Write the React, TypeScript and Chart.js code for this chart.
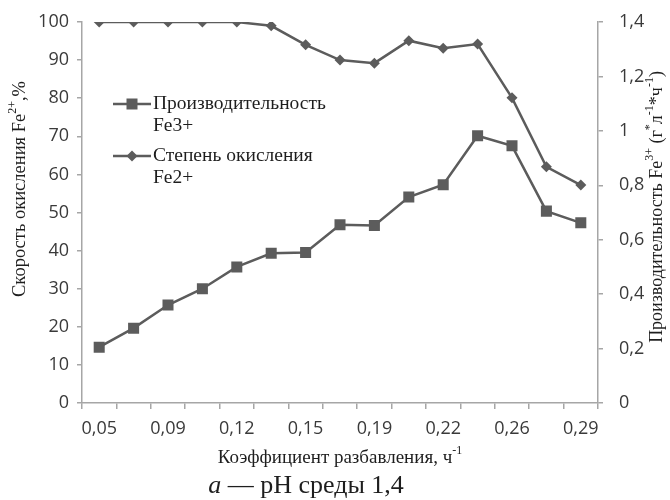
import React, { useEffect, useRef } from 'react';
import { Chart, registerables } from 'chart.js';

Chart.register(...registerables);

// ---- data ----
const categories = ['0,05', '0,07', '0,09', '0,105', '0,12', '0,135', '0,15', '0,17', '0,19', '0,205', '0,22', '0,24', '0,26', '0,275', '0,29'];
const productivity = [0.205, 0.275, 0.36, 0.42, 0.5, 0.55, 0.553, 0.655, 0.652, 0.757, 0.802, 0.982, 0.945, 0.705, 0.662];
const oxidation = [100, 100, 100, 100, 100, 99, 94, 90, 89.2, 95.1, 93.1, 94.2, 80.1, 62, 57.2];
const leftAxis = { min: 0, max: 100, step: 10 };
const rightAxis = { min: 0, max: 1.4, step: 0.2 };
const legendLabels = [
  ['Производительность', 'Fe3+'],
  ['Степень окисления', 'Fe2+'],
];
type Part = { t: string; sup?: boolean };
const leftTitle: Part[] = [{ t: 'Скорость окисления Fe' }, { t: '2+', sup: true }, { t: ',%' }];
const rightTitle: Part[] = [
  { t: 'Производительность Fe' }, { t: '3+', sup: true }, { t: ' (г' }, { t: '*', sup: true },
  { t: 'л' }, { t: '-1', sup: true }, { t: '*ч' }, { t: '-1', sup: true }, { t: ')' },
];
const xTitle: Part[] = [{ t: 'Коэффициент разбавления, ч' }, { t: '-1', sup: true }];
const caption: Part[] = [{ t: 'a' }, { t: ' — pH среды 1,4' }];

const LINE = '#5c5c5c';
const AXIS = '#a6a6a6';
const TICK_TEXT = '#3a3a3a';
const TITLE_TEXT = '#1e1e1e';
const SERIF = '"Liberation Serif", "Times New Roman", serif';
const SANS = '"Open Sans", sans-serif';

function drawRich(ctx: CanvasRenderingContext2D, parts: Part[], size: number, cx: number, cy: number, rot: number, italicFirst = false) {
  const supSize = Math.round(size * 0.65);
  const fontFor = (p: Part, i: number) => `${italicFirst && i === 0 ? 'italic ' : ''}${p.sup ? supSize : size}px ${SERIF}`;
  let total = 0;
  const widths = parts.map((p, i) => {
    ctx.font = fontFor(p, i);
    const w = ctx.measureText(p.t).width;
    total += w;
    return w;
  });
  ctx.save();
  ctx.translate(cx, cy);
  ctx.rotate(rot);
  ctx.fillStyle = TITLE_TEXT;
  ctx.textBaseline = 'middle';
  ctx.textAlign = 'left';
  let x = -total / 2;
  parts.forEach((p, i) => {
    ctx.font = fontFor(p, i);
    ctx.fillText(p.t, x, p.sup ? -size * 0.38 : 0);
    x += widths[i];
  });
  ctx.restore();
}

const decor = {
  id: 'decor',
  afterDraw(chart: any) {
    const ctx: CanvasRenderingContext2D = chart.ctx;
    // axis titles
    drawRich(ctx, leftTitle, 18.5, 20, 189, -Math.PI / 2);
    drawRich(ctx, rightTitle, 18, 657, 207, -Math.PI / 2);
    drawRich(ctx, xTitle, 19, 340, 458, 0);
    drawRich(ctx, caption, 26, 306, 486, 0, true);

    // legend
    const items = [
      { ds: chart.data.datasets[0], y: 104, labels: legendLabels[0] },
      { ds: chart.data.datasets[1], y: 156, labels: legendLabels[1] },
    ];
    items.forEach((it) => {
      ctx.save();
      ctx.strokeStyle = LINE;
      ctx.lineWidth = 2.5;
      ctx.beginPath();
      ctx.moveTo(113, it.y);
      ctx.lineTo(151, it.y);
      ctx.stroke();
      ctx.fillStyle = LINE;
      const mx = 132;
      if (it.ds.pointStyle === 'rect') {
        ctx.fillRect(mx - 5.5, it.y - 5.5, 11, 11);
      } else {
        ctx.beginPath();
        ctx.moveTo(mx, it.y - 5.5);
        ctx.lineTo(mx + 5.5, it.y);
        ctx.lineTo(mx, it.y + 5.5);
        ctx.lineTo(mx - 5.5, it.y);
        ctx.closePath();
        ctx.fill();
      }
      ctx.fillStyle = TITLE_TEXT;
      ctx.font = `19.5px ${SERIF}`;
      ctx.textBaseline = 'middle';
      ctx.textAlign = 'left';
      it.labels.forEach((l, k) => ctx.fillText(l, 153, it.y + k * 22));
      ctx.restore();
    });
  },
};

export default function App() {
  const ref = useRef<HTMLCanvasElement>(null);
  useEffect(() => {
    if (!ref.current) return;
    const chart = new Chart(ref.current, {
      type: 'line',
      data: {
        labels: categories,
        datasets: [
          {
            label: 'Производительность Fe3+',
            data: productivity,
            yAxisID: 'y1',
            borderColor: LINE,
            backgroundColor: LINE,
            borderWidth: 2.5,
            pointStyle: 'rect',
            pointRadius: 7.8,
            pointBorderWidth: 0,
            tension: 0,
          },
          {
            label: 'Степень окисления Fe2+',
            data: oxidation,
            yAxisID: 'y',
            borderColor: LINE,
            backgroundColor: LINE,
            borderWidth: 2.5,
            pointStyle: 'rectRot',
            pointRadius: 5.5,
            pointBorderWidth: 0,
            tension: 0,
          },
        ],
      },
      options: {
        responsive: false,
        animation: false,
        devicePixelRatio: 1,
        layout: { padding: { top: 22, left: 0, right: 0, bottom: 0 } },
        plugins: { legend: { display: false }, tooltip: { enabled: false } },
        scales: {
          x: {
            type: 'category',
            offset: true,
            grid: { offset: true, drawOnChartArea: false, drawTicks: true, tickLength: 6, color: AXIS, lineWidth: 1.5 },
            border: { color: AXIS, width: 1.5 },
            ticks: {
              autoSkip: false,
              maxRotation: 0,
              minRotation: 0,
              padding: 9,
              color: TICK_TEXT,
              font: { family: SANS, size: 18 },
              callback: (_v: any, i: number) => (i % 2 === 0 ? categories[i] : ''),
            },
            afterFit: (s: any) => { s.height = 500 - 403; s.paddingLeft = 0; s.paddingRight = 0; },
          },
          y: {
            position: 'left',
            min: leftAxis.min,
            max: leftAxis.max,
            grid: { drawOnChartArea: false, drawTicks: true, tickLength: 5, color: AXIS, lineWidth: 1.5 },
            border: { color: AXIS, width: 1.5 },
            ticks: { stepSize: leftAxis.step, padding: 8, color: TICK_TEXT, font: { family: SANS, size: 18 } },
            afterFit: (s: any) => { s.width = 82; s.paddingTop = 0; s.paddingBottom = 0; },
          },
          y1: {
            position: 'right',
            min: rightAxis.min,
            max: rightAxis.max,
            grid: { drawOnChartArea: false, drawTicks: true, tickLength: 5, color: AXIS, lineWidth: 1.5 },
            border: { color: AXIS, width: 1.5 },
            ticks: {
              stepSize: rightAxis.step,
              padding: 16,
              color: TICK_TEXT,
              font: { family: SANS, size: 18 },
              callback: (v: any) => String(Math.round(Number(v) * 10) / 10).replace('.', ','),
            },
            afterFit: (s: any) => { s.width = 670 - 598; s.paddingTop = 0; s.paddingBottom = 0; },
          },
        },
      },
      plugins: [decor],
    } as any);
    return () => chart.destroy();
  }, []);
  return (
    <div style={{ position: 'absolute', left: 0, top: 0, width: 670, height: 500, background: '#fff' }}>
      <canvas ref={ref} width={670} height={500} style={{ display: 'block' }} />
    </div>
  );
}
